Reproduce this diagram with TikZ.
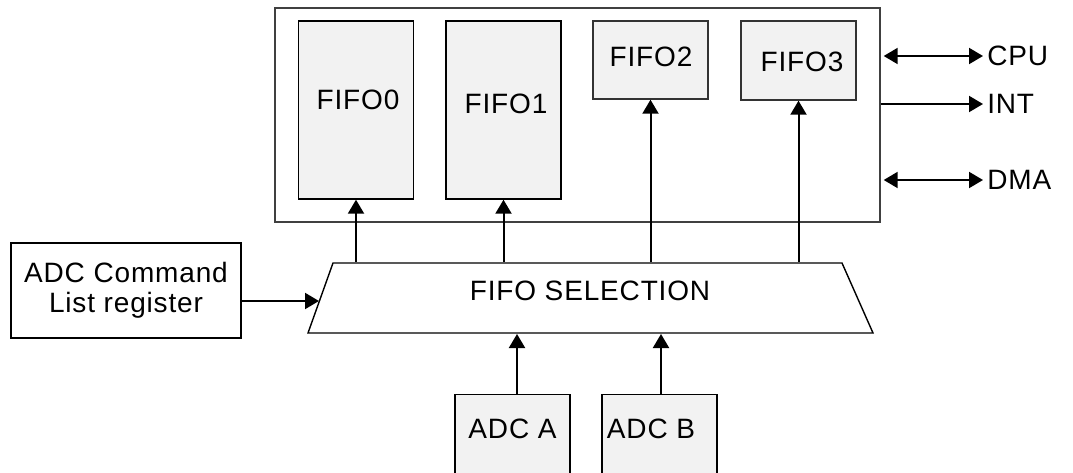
\documentclass[tikz,border=0pt]{standalone}
\usepackage{fontspec}
\setmainfont{Liberation Sans}[LetterSpace=3]
\usetikzlibrary{calc,arrows.meta}

\begin{document}
\begin{tikzpicture}[x=1pt, y=-1pt, line width=2pt, font=\fontsize{28}{30}\selectfont,
  box/.style={draw, line width=1.4pt, inner sep=0pt},
  fifo/.style={box, fill=gray!10, minimum width=115pt},
  arr/.style={-{Triangle[width=16pt,length=14pt]}},
  arrs/.style={{Triangle[width=16pt,length=14pt]}-{Triangle[width=16pt,length=14pt]}}]
  \clip (0,0) rectangle (1073,473);

  % FIFO block
  \node[box, draw=black!75, minimum width=605pt, minimum height=214pt] (mem) at (577.5,115) {};
  \node[fifo, minimum height=178pt] (f0) at (356,110) {};
  \node[fifo, minimum height=178pt] (f1) at (503.5,110) {};
  \node[fifo, draw=black!80, minimum height=78pt] (f2) at (650.5,60) {};
  \node[fifo, draw=black!80, minimum height=79pt] (f3) at (798.5,60.5) {};
  \node (f0txt) at (358,100) {FIFO0};
  \node (f1txt) at (506,104) {FIFO1};
  \node (f2txt) at (651,57) {FIFO2};
  \node (f3txt) at (802,62) {FIFO3};

  % selection
  \draw[line width=1.4pt] (333,263) -- (842,263) -- (873,333) -- (308,333) -- cycle;
  \node[minimum width=540pt, minimum height=70pt, inner sep=0pt] (sel) at (590,298) {};
  \node (seltxt) at (590,291) {FIFO SELECTION};

  \node[box, minimum width=230pt, minimum height=95pt, align=center] (cmd) at (126,290.5) {ADC Command\\ List register};

  % ADCs
  \node[fifo, minimum height=100pt, anchor=north] (adca) at (512.5,394) {};
  \node[fifo, minimum height=100pt, anchor=north] (adcb) at (659.5,394) {};
  \node (adcatxt) at (512.5,429) {ADC A};
  \node (adcbtxt) at (651,429) {ADC B};

  % bus
  \node[anchor=west] (cpu) at (983,56) {CPU};
  \node[anchor=west] (int) at (983,104) {INT};
  \node[anchor=west] (dma) at (983,180) {DMA};

  \draw[arr] (f0.south |- sel.north) -- (f0.south);
  \draw[arr] (f1.south |- sel.north) -- (f1.south);
  \draw[arr] (f2.south |- sel.north) -- (f2.south);
  \draw[arr] (f3.south |- sel.north) -- (f3.south);
  \draw[arr] ($(cmd.east)+(0,10.5)$) -- ($(cmd.east -| sel.west)+(0,10.5)$);
  \draw[arr] ($(adca.north)+(4.5,0)$) -- ($(adca.north |- sel.south)+(4.5,0)$);
  \draw[arr] ($(adcb.north)+(1.5,0)$) -- ($(adcb.north |- sel.south)+(1.5,0)$);
  \draw[arrs] ($(cpu.west -| mem.east)+(3,0)$) -- (cpu.west);
  \draw[arr] (int.west -| mem.east) -- (int.west);
  \draw[arrs] ($(dma.west -| mem.east)+(3,0)$) -- (dma.west);
\end{tikzpicture}
\end{document}
